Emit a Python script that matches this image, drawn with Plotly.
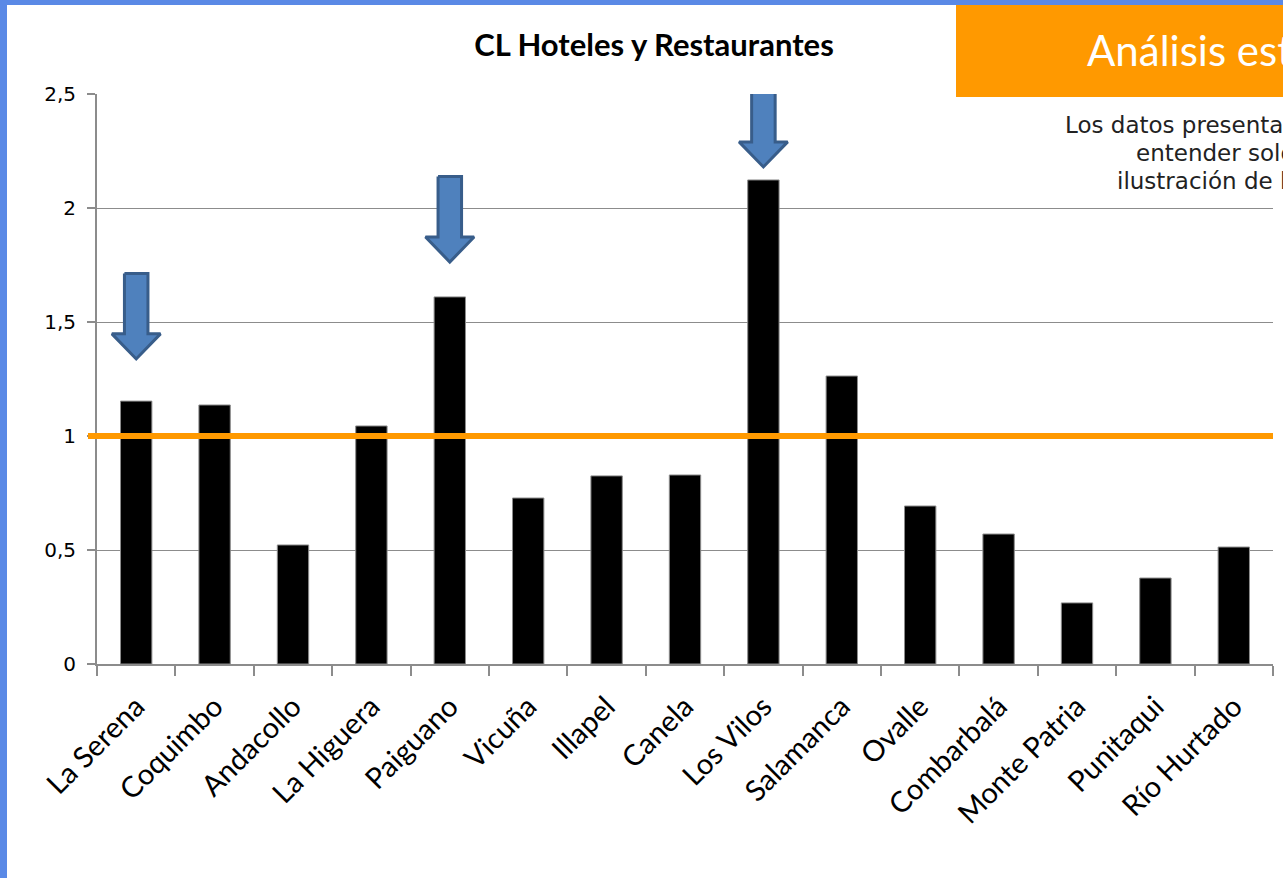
import plotly.graph_objects as go

categories = ["La Serena", "Coquimbo", "Andacollo", "La Higuera", "Paiguano", "Vicuña",
              "Illapel", "Canela", "Los Vilos", "Salamanca", "Ovalle", "Combarbalá",
              "Monte Patria", "Punitaqui", "Río Hurtado"]
values = [1.153, 1.136, 0.522, 1.044, 1.61, 0.728, 0.825, 0.829, 2.123, 1.263,
          0.693, 0.57, 0.268, 0.377, 0.513]
reference_value = 1.0
arrow_categories = ["La Serena", "Paiguano", "Los Vilos"]
arrow_tip_values = [1.338, 1.763, 2.18]
y_ticks = [0, 0.5, 1, 1.5, 2, 2.5]

title_text = "CL Hoteles y Restaurantes"
box_text = "Análisis estadístico"
note_lines = ["Los datos presentados", "entender solo", "ilustración de la"]

W, H = 1283, 878
ml, mr, mt, mb = 97, 10, 94, 214
pw, ph = W - ml - mr, H - mt - mb

fig = go.Figure()
fig.add_trace(go.Bar(x=categories, y=values, marker=dict(color="black",
                     line=dict(color="#8c8c8c", width=1)), showlegend=False,
                     hoverinfo="x+y"))

# arrows on an overlaid numeric axis
arrow_len = 0.375
shaft_hw, head_hw, head_h = 0.15, 0.31, 0.11
for cat, tip in zip(arrow_categories, arrow_tip_values):
    i = categories.index(cat)
    top = tip + arrow_len
    hb = tip + head_h
    xs = [i - shaft_hw, i + shaft_hw, i + shaft_hw, i + head_hw, i, i - head_hw, i - shaft_hw, i - shaft_hw]
    ys = [top, top, hb, hb, tip, hb, hb, top]
    fig.add_trace(go.Scatter(x=xs, y=ys, xaxis="x2", mode="lines", fill="toself",
                             fillcolor="#4F81BD", line=dict(color="#385D8A", width=3),
                             showlegend=False, hoverinfo="skip"))

fig.update_layout(
    width=W, height=H,
    margin=dict(l=ml, r=mr, t=mt, b=mb),
    paper_bgcolor="white", plot_bgcolor="white",
    separators=", ",
    bargap=0.6,
    title=dict(text="<b>" + title_text + "</b>", x=(654 - ml) / pw, xref="paper",
               xanchor="center", y=1 - 45 / H, yanchor="middle",
               font=dict(family="Lato", size=31, color="black")),
    xaxis=dict(type="category", tickson="boundaries", ticks="outside", ticklen=10,
               tickcolor="#8c8c8c", tickwidth=2, showline=True, linecolor="#8c8c8c",
               linewidth=2, showgrid=False, tickangle=-45, ticklabelstandoff=12,
               tickfont=dict(family="Lato", size=29, color="black"),
               range=[-0.5, 14.5]),
    xaxis2=dict(overlaying="x", range=[-0.5, 14.5], visible=False),
    yaxis=dict(range=[0, 2.5], tickvals=y_ticks, ticks="outside", ticklen=8,
               tickcolor="#8c8c8c", tickwidth=2, showline=True, linecolor="#8c8c8c",
               linewidth=2, showgrid=True, gridcolor="#8c8c8c", gridwidth=1,
               zeroline=False, ticklabelstandoff=7,
               tickfont=dict(family="DejaVu Sans", size=20, color="black")),
)

# reference line at 1
fig.add_shape(type="line", xref="paper", yref="y", x0=-9 / pw, x1=1.0,
              y0=reference_value, y1=reference_value,
              line=dict(color="#FF9900", width=6), layer="above")

def px_x(p):
    return (p - ml) / pw

def px_y(p):
    return (H - mb - p) / ph

# blue frame
fig.add_shape(type="rect", xref="paper", yref="paper", x0=px_x(0), x1=px_x(7),
              y0=px_y(H), y1=px_y(0), fillcolor="#5A89E6", line=dict(width=0))
fig.add_shape(type="rect", xref="paper", yref="paper", x0=px_x(0), x1=px_x(W),
              y0=px_y(5), y1=px_y(0), fillcolor="#5A89E6", line=dict(width=0))
# orange header box
fig.add_shape(type="rect", xref="paper", yref="paper", x0=px_x(956), x1=px_x(W + 5),
              y0=px_y(97), y1=px_y(5), fillcolor="#FF9900", line=dict(width=0),
              layer="above")
fig.add_annotation(text=box_text, xref="paper", yref="paper", x=px_x(1085), y=px_y(50),
                   xanchor="left", yanchor="middle", showarrow=False,
                   font=dict(family="Lato", size=42, color="white"))
note_x = [1063, 1134, 1115]
note_y = [125, 153, 181]
for t, xx, yy in zip(note_lines, note_x, note_y):
    fig.add_annotation(text=t, xref="paper", yref="paper", x=px_x(xx), y=px_y(yy),
                       xanchor="left", yanchor="middle", showarrow=False,
                       font=dict(family="DejaVu Sans", size=23, color="#222222"))

fig.write_html("out.html", config={"displayModeBar": False},
               post_script="document.body.style.margin='0px';document.body.style.overflow='hidden';")
